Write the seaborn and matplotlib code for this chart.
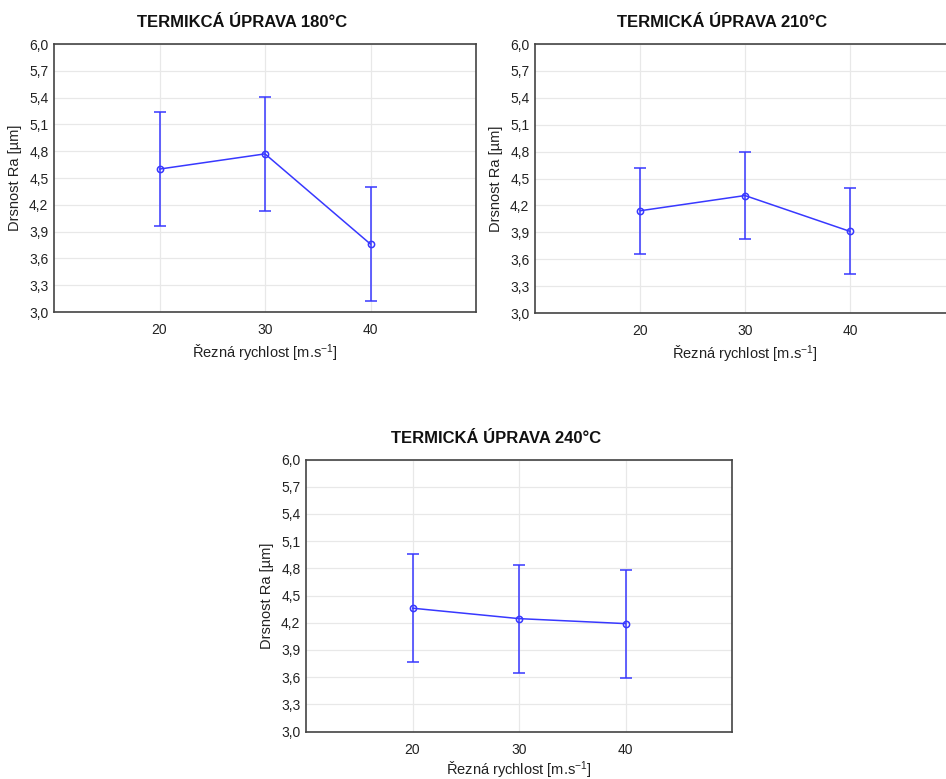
import matplotlib
matplotlib.use("Agg")
import matplotlib.pyplot as plt
import seaborn as sns
import numpy as np
import pandas as pd
from matplotlib.ticker import FuncFormatter

# ---- data ----
speeds = [20, 30, 40]
titles = ["TERMIKCÁ ÚPRAVA 180°C", "TERMICKÁ ÚPRAVA 210°C", "TERMICKÁ ÚPRAVA 240°C"]
ra_180 = [4.60, 4.77, 3.76]
err_180 = [0.635, 0.635, 0.635]
ra_210 = [4.14, 4.31, 3.91]
err_210 = [0.48, 0.48, 0.48]
ra_240 = [4.36, 4.245, 4.19]
err_240 = [0.595, 0.595, 0.595]
y_ticks = [3.0, 3.3, 3.6, 3.9, 4.2, 4.5, 4.8, 5.1, 5.4, 5.7, 6.0]
x_label = "Řezná rychlost [m.s$^{-1}$]"
y_label = "Drsnost Ra [µm]"

sns.set_theme(style="white")
plt.rcParams["font.family"] = ["Liberation Sans", "DejaVu Sans"]
plt.rcParams["mathtext.fontset"] = "custom"
plt.rcParams["mathtext.rm"] = "Liberation Sans"
plt.rcParams["mathtext.it"] = "Liberation Sans:italic"
plt.rcParams["mathtext.bf"] = "Liberation Sans:bold"

W, H = 946, 779
fig = plt.figure(figsize=(W / 100, H / 100), dpi=100)

# axes boxes in pixels: left, top, right, bottom
boxes = [(54, 44, 476, 312), (535, 44, 955, 313), (306, 459.5, 732, 731.5)]
series = [(ra_180, err_180), (ra_210, err_210), (ra_240, err_240)]
title_x = [0.445, 0.445, 0.447]
xlabel_pads = [4, 4, 2]

line_color = "#3838ff"
spine_color = "#444444"

for (l, t, r, b), (vals, errs), title, tx, lp in zip(boxes, series, titles, title_x, xlabel_pads):
    ax = fig.add_axes([l / W, 1 - b / H, (r - l) / W, (b - t) / H])
    df = pd.DataFrame({"speed": speeds, "ra": vals})
    ax.errorbar(speeds, vals, yerr=errs, fmt="none", ecolor=line_color,
                elinewidth=1.1, capsize=4, capthick=1.1, zorder=3)
    sns.lineplot(data=df, x="speed", y="ra", ax=ax, color=line_color,
                 linewidth=1.1, marker="o", markersize=4.5,
                 markerfacecolor="none", markeredgecolor=line_color,
                 markeredgewidth=1.1, zorder=4)
    ax.set_xlim(10, 50)
    ax.set_ylim(3.0, 6.0)
    ax.set_xticks(speeds)
    ax.set_yticks(y_ticks)
    ax.yaxis.set_major_formatter(FuncFormatter(lambda v, p: f"{v:.1f}".replace(".", ",")))
    ax.grid(True, color="#e8e8e8", linewidth=0.9)
    ax.set_axisbelow(True)
    for s in ax.spines.values():
        s.set_color(spine_color)
        s.set_linewidth(1.2)
        s.set_visible(True)
    ax.tick_params(axis="y", direction="in", length=3, width=0.8,
                   colors=spine_color, labelcolor="#222222", labelsize=10, pad=4)
    ax.tick_params(axis="x", direction="out", length=2, width=0.8,
                   colors=spine_color, labelcolor="#222222", labelsize=10, pad=6)
    ax.set_xlabel(x_label, fontsize=10.5, color="#222222", labelpad=lp)
    ax.set_ylabel(y_label, fontsize=10.5, color="#222222", labelpad=5)
    ax.set_title(title, fontsize=12, fontweight="bold", color="#111111",
                 x=tx, pad=12)

fig.savefig("out.png", dpi=100)
